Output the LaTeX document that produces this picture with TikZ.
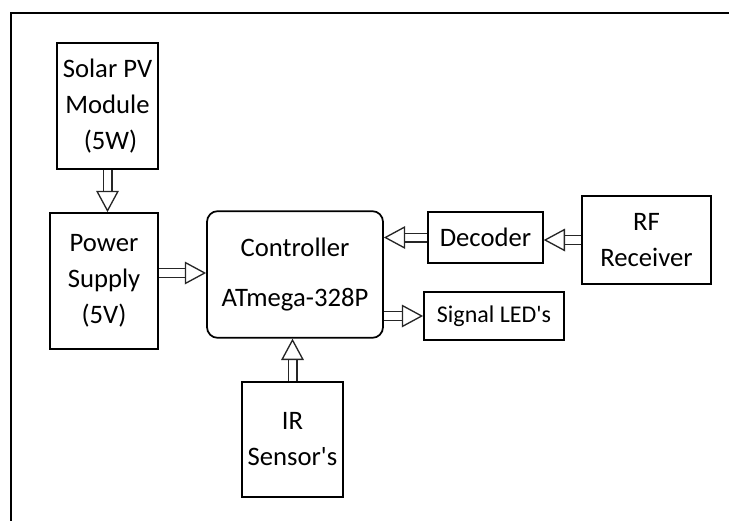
\documentclass[tikz,border=0pt]{standalone}
\usepackage{fontspec}
\setmainfont{Carlito}
\usetikzlibrary{arrows.meta, positioning, calc}

\begin{document}
\begin{tikzpicture}[
    x=0.75pt, y=-0.75pt,
    font=\fontsize{20}{27}\selectfont,
    kotak/.style={draw, line width=1.3pt, inner sep=0pt, align=center},
    panah/.style={draw=black!85, line width=1pt, double, double distance=5.5pt,
                  -{Triangle[open, length=16pt, width=17pt]}}
  ]
    \useasboundingbox (0,0) rectangle (729,521);
    % bingkai luar
    \draw[line width=1.5pt] (11,521) -- (11,13) -- (729,13);

    \node[kotak, minimum width=76pt, minimum height=94.5pt] (solar) at (107.5,106)
      {Solar PV\\Module\\\ (5W)};
    \node[kotak, minimum width=81pt, minimum height=102pt] (power) at (104,281)
      {Power\\Supply\\(5V)};
    \node[kotak, rounded corners=8pt, minimum width=132pt, minimum height=95pt,
          font=\fontsize{20}{38}\selectfont] (ctrl) at (295,274.5)
      {Controller\\ATmega-328P};
    \node[kotak, minimum width=86pt, minimum height=38pt] (dec) at (485.5,237.5) {Decoder};
    \node[kotak, minimum width=97pt, minimum height=66pt] (rf) at (646.5,240)
      {RF\\Receiver};
    \node[kotak, minimum width=105pt, minimum height=36pt,
          font=\fontsize{18}{22}\selectfont] (led) at (494,316) {Signal LED\textquotesingle s};
    \node[kotak, minimum width=76pt, minimum height=86pt] (ir) at (292.5,439.5)
      {IR\\Sensor\textquotesingle s};

    \draw[panah] (solar.south) -- (solar.south |- power.north);
    \draw[panah] ([yshift=6pt]power.east) -- ([yshift=6pt]power.east -| ctrl.west);
    \draw[panah] (rf.west) -- (rf.west -| dec.east);
    \draw[panah] (dec.west) -- (dec.west -| ctrl.east);
    \draw[panah] (led.west -| ctrl.east) -- (led.west);
    \draw[panah] (ir.north) -- (ir.north |- ctrl.south);
  \end{tikzpicture}
\end{document}
